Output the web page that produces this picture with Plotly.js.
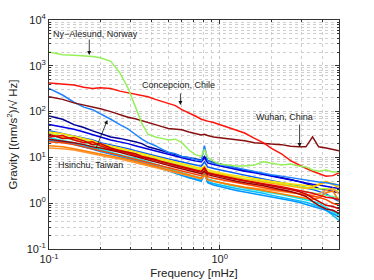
<!DOCTYPE html>
<html>
<head>
<meta charset="utf-8">
<script src="https://cdn.plot.ly/plotly-3.0.1.min.js"></script>
<style>html,body{margin:0;padding:0;background:#fff;}#chart{width:374px;height:280px;}</style>
</head>
<body>
<div id="chart"></div>
<script>
// Frequency axis (mHz)
const freq = [0.10,0.12,0.14,0.16,0.18,0.20,0.23,0.26,0.29,0.32,0.35,0.38,0.42,0.46,0.50,0.55,0.60,0.66,0.72,0.78,0.814,0.85,0.92,1.0,1.1,1.25,1.4,1.6,1.8,2.0,2.3,2.6,2.9,3.2,3.5,3.8,4.2,4.6,5.0];

// Highlighted stations
const nyAlesund  = [2000,1750,1700,1650,1600,1500,1250,700,330,130,55,32,28,26,24,25,21,14.5,11.5,10.5,15,10,8.2,7.2,6.8,6.5,6.5,6.8,8,7.5,6.8,7.2,6.5,6.2,5.3,5,5.3,4.8,4.8];
const concepcion = [420,400,380,340,320,330,320,280,260,240,225,210,185,165,150,135,110,95,80,68,66,62,58,52,46,40,34,26,21,16,12,8.5,6.8,5.8,5,4.4,3.9,4.0,4.6];
const wuhan      = [210,185,155,140,125,115,100,85,75,70,64,58,52,47,43,41,40,36,33,31,32,30,28,27,25,24,23,21,20,19.5,19,17.5,17,17,28,17,16,15,14];
const hsinchu    = [320,230,160,125,110,90,68,52,42,32,25,21,18,15,13,12,10.5,10,9,8.5,18,8.5,7.5,7,6.5,6,5.5,5,4.6,4.2,3.9,3.6,3.4,3.2,3.0,2.9,2.8,2.6,2.5];

// Other stations
const st01 = [80,68,52,45,38,33,28,26,24,22,20,17,15.5,14,12.5,11.5,10.5,9.8,9.2,8.8,10.5,8.5,7.8,7.2,6.5,5.6,5.2,4.8,4.4,4.1,3.7,3.3,3.0,2.7,2.4,2.1,1.9,1.8,1.7];
const st02 = [52,46,41,36,31,28,24,22,20,18,16.5,15,13.5,12.5,11.5,10.5,9.6,9,8.4,8,9.8,7.6,7,6.5,6,5.4,5,4.6,4.2,3.9,3.5,3.2,2.9,2.7,2.6,2.5,2.3,2.2,2.1];
const st03 = [38,33,30,27,24,21,19,17,15.5,14,13,12,11,10,9.2,8.5,7.8,7.2,6.8,6.4,8,6.2,5.7,5.3,4.9,4.5,4.1,3.7,3.4,3.1,2.8,2.6,2.4,2.2,2.0,1.8,1.6,1.3,1.1];
const st04 = [24,22,20,18,16,14,12.5,11,10,9,8.2,7.5,6.6,5.8,5.2,4.6,4.1,3.7,3.4,3.2,4.5,3.0,2.7,2.5,2.3,2.1,1.95,1.8,1.65,1.5,1.35,1.25,1.15,1.05,0.95,0.85,0.7,0.55,0.42];
const st05 = [27,24,21,19,17,15,13,11.5,10.5,9.5,8.8,8,7.2,6.4,5.8,5.1,4.6,4.1,3.8,3.6,5,3.4,3.1,2.8,2.55,2.3,2.15,2.0,1.85,1.7,1.55,1.4,1.3,1.2,1.1,1.0,0.8,0.65,0.55];
const st06 = [30,27,24,21,19,17,15,13.5,12,11,10,9.2,8.4,7.6,7,6.4,5.9,5.4,5,4.7,6,4.5,4.2,3.9,3.6,3.3,3.0,2.8,2.6,2.4,2.2,2.05,1.9,1.8,1.7,1.6,1.5,1.4,1.3];
const st07 = [34,30,27,24,21,19,17,15,13.5,12.5,11.5,10.5,9.6,8.8,8,7.3,6.7,6.1,5.6,5.3,6.2,5,4.6,4.3,4.0,3.7,3.4,3.2,3.0,2.8,2.6,2.45,2.3,2.2,2.1,2.05,2.1,2.0,1.9];
const st08 = [36,33,29,26,23,20,18,16,14.5,13.2,12.2,11.2,10.2,9.3,8.5,7.8,7.1,6.5,6,5.7,6.5,5.4,5,4.6,4.3,4.0,3.7,3.4,3.2,3.0,2.8,2.65,2.5,2.4,2.35,2.5,2.9,2.7,2.4];
const st09 = [31,28,25,23,20,18,16,14.5,13,12,11,10,9.2,8.4,7.7,7,6.4,5.9,5.4,5.1,6,4.8,4.5,4.2,3.9,3.6,3.3,3.1,2.9,2.7,2.5,2.35,2.2,2.1,2.2,2.6,3.0,2.5,2.2];
const st10 = [18,17,15.5,14,13,12,11,10,9,8.2,7.5,7,6.4,5.8,5.3,4.9,4.5,4.1,3.8,3.5,4.2,3.3,3.0,2.8,2.6,2.4,2.2,2.05,1.9,1.75,1.6,1.5,1.4,1.3,1.2,1.3,1.7,1.85,1.1];
const st11 = [22,21,19,17,15.5,14,12.5,11.2,10,9.2,8.4,7.7,7,6.4,5.9,5.4,5,4.6,4.3,4,5,3.8,3.5,3.3,3.05,2.8,2.6,2.4,2.2,2.05,1.9,1.75,1.6,1.5,1.4,1.35,1.2,1.0,0.9];
const st12 = [28,30,24,21,22,18,15,14,12.5,11,10,9.5,8.6,7.8,7.2,6.5,6,5.5,5.1,4.8,6,4.5,4.2,3.9,3.6,3.3,3.1,2.9,2.7,2.5,2.3,2.1,1.95,1.8,1.65,1.5,1.35,1.3,1.2];
const st13 = [32,26,27,23,19,20,16,14,13,12,10.5,9.8,9,8,7.4,6.8,6.2,5.6,5.2,4.9,5.8,4.6,4.3,4.0,3.7,3.4,3.1,2.8,2.6,2.4,2.2,2.0,1.8,1.6,1.3,1.1,0.9,0.85,0.75];
const st14 = [25,23,21,19,17,16,14.5,13,11.5,10.5,9.6,8.8,8,7.3,6.7,6.1,5.6,5.1,4.7,4.4,5,4.2,3.9,3.6,3.3,3.0,2.8,2.6,2.4,2.2,2.0,1.8,1.6,1.4,1.1,0.9,0.75,0.7,0.6];
const st15 = [24,22,19,17,15,13.5,12,10.5,9.5,8.5,7.8,7,6.3,5.6,5,4.5,4,3.6,3.3,3,4.5,2.8,2.5,2.3,2.1,1.9,1.75,1.6,1.5,1.4,1.25,1.15,1.05,0.95,0.85,0.8,0.7,0.6,0.5];
const st16 = [16,15.5,14.5,13,12,11,10,9.2,8.4,7.7,7,6.5,6,5.5,5.1,4.7,4.3,4,3.7,3.4,4,3.2,3.0,2.8,2.6,2.4,2.25,2.1,2.0,1.9,1.8,1.7,1.6,1.55,1.5,1.6,1.9,2.1,1.6];

// Tick labels
const xTickVals = [0.1, 1];
const xTickText = ['10<sup>-1</sup>', '10<sup>0</sup>'];
const yTickVals = [0.1, 1, 10, 100, 1000, 10000];
const yTickText = ['10<sup>-1</sup>','10<sup>0</sup>','10<sup>1</sup>','10<sup>2</sup>','10<sup>3</sup>','10<sup>4</sup>'];

const labels = {ny:'Ny\u2212Alesund, Norway', co:'Concepcion, Chile', wu:'Wuhan, China', hs:'Hsinchu, Taiwan'};

const others = [
  [st01,'rgb(0,0,150)'],[st02,'rgb(0,0,230)'],[st03,'rgb(0,90,255)'],
  [st04,'rgb(0,190,255)'],[st05,'rgb(0,235,235)'],[st15,'rgb(0,150,255)'],
  [st06,'rgb(90,255,170)'],[st07,'rgb(180,255,60)'],[st08,'rgb(255,225,0)'],
  [st09,'rgb(255,180,0)'],[st16,'rgb(255,150,50)'],[st10,'rgb(255,125,0)'],
  [st11,'rgb(255,70,0)'],[st12,'rgb(240,0,0)'],[st13,'rgb(205,0,0)'],[st14,'rgb(160,0,0)']
];

const LW = 1.5;
const traces = [];
others.forEach(([ys,c]) => traces.push({x:freq, y:ys, type:'scatter', mode:'lines', line:{color:c, width:LW}, hoverinfo:'skip'}));
traces.push({x:freq, y:hsinchu, type:'scatter', mode:'lines', line:{color:'rgb(30,130,255)', width:LW}, hoverinfo:'skip'});
traces.push({x:freq, y:wuhan, type:'scatter', mode:'lines', line:{color:'rgb(135,15,15)', width:LW}, hoverinfo:'skip'});
traces.push({x:freq, y:concepcion, type:'scatter', mode:'lines', line:{color:'rgb(255,20,10)', width:LW}, hoverinfo:'skip'});
traces.push({x:freq, y:nyAlesund, type:'scatter', mode:'lines', line:{color:'rgb(150,240,90)', width:LW}, hoverinfo:'skip'});

function minorVals(lo, hi) {
  const v = [];
  for (let e = lo; e < hi; e++) for (let k = 2; k <= 9; k++) v.push(k * Math.pow(10, e));
  return v;
}

const gridStyle = {showgrid:true, gridcolor:'#cfcfcf', griddash:'dot', gridwidth:1};
const font = {family:'Liberation Sans, Arial, sans-serif', size:11, color:'#222'};
const annFont = {family:'Liberation Sans, Arial, sans-serif', size:9, color:'#222'};

const layout = {
  width:374, height:280,
  margin:{l:49, r:35, t:20, b:31, pad:0},
  paper_bgcolor:'#fff', plot_bgcolor:'#fff',
  showlegend:false,
  font:font,
  xaxis:{
    type:'log', range:[-1, Math.log10(5)], tickmode:'array', tickvals:xTickVals, ticktext:xTickText,
    ticks:'inside', ticklen:4, tickcolor:'#333', mirror:'ticks', showline:true, linecolor:'#333', linewidth:1,
    gridcolor:'#c4c4c4', griddash:'dot', showgrid:true, zeroline:false,
    minor:Object.assign({tickmode:'array', tickvals:minorVals(-1,1).filter(v=>v<=5), ticks:'inside', ticklen:2, tickcolor:'#333'}, gridStyle),
    title:{text:'Frequency [mHz]', font:{family:font.family, size:11.5, color:'#222'}, standoff:4},
    tickfont:font
  },
  yaxis:{
    type:'log', range:[-1, 4], tickmode:'array', tickvals:yTickVals, ticktext:yTickText,
    ticks:'inside', ticklen:4, tickcolor:'#333', mirror:'ticks', showline:true, linecolor:'#333', linewidth:1,
    gridcolor:'#c4c4c4', griddash:'dot', showgrid:true, zeroline:false,
    minor:Object.assign({tickmode:'array', tickvals:minorVals(-1,4), ticks:'inside', ticklen:2, tickcolor:'#333'}, gridStyle),
    title:{text:'Gravity [(nm/s<sup>2</sup>)/\u221A Hz]', font:{family:font.family, size:11.5, color:'#222'}, standoff:6},
    tickfont:font
  },
  annotations:[
    {x:-0.728, y:3.694, xref:'x', yref:'y', text:labels.ny, showarrow:false, font:annFont},
    {x:-0.764, y:3.236, xref:'x', yref:'y', text:'', showarrow:true, ax:0, ay:-17, arrowhead:2, arrowsize:1, arrowwidth:0.8, arrowcolor:'#111'},
    {x:-0.239, y:2.58, xref:'x', yref:'y', text:labels.co, showarrow:false, font:annFont},
    {x:-0.230, y:2.144, xref:'x', yref:'y', text:'', showarrow:true, ax:0, ay:-13, arrowhead:2, arrowsize:1, arrowwidth:0.8, arrowcolor:'#111'},
    {x:0.380, y:1.882, xref:'x', yref:'y', text:labels.wu, showarrow:false, font:annFont},
    {x:0.468, y:1.227, xref:'x', yref:'y', text:'', showarrow:true, ax:0, ay:-24, arrowhead:2, arrowsize:1, arrowwidth:0.8, arrowcolor:'#111'},
    {x:-0.758, y:0.834, xref:'x', yref:'y', text:labels.hs, showarrow:false, font:annFont},
    {x:-0.658, y:1.817, xref:'x', yref:'y', text:'', showarrow:true, ax:-12, ay:30, arrowhead:2, arrowsize:1, arrowwidth:0.8, arrowcolor:'#111'}
  ]
};

Plotly.newPlot('chart', traces, layout, {staticPlot:true, displayModeBar:false});
</script>
</body>
</html>
